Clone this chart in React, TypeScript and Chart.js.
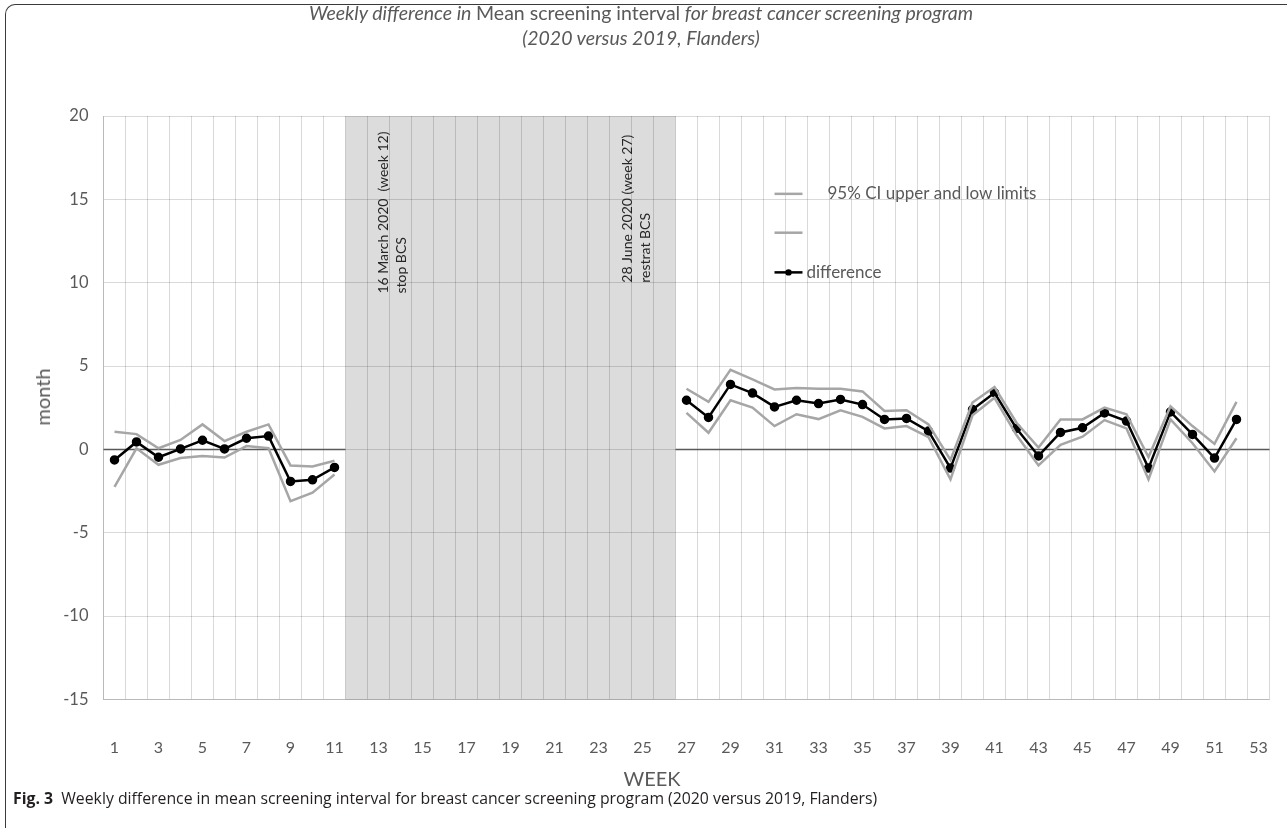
import React, { useEffect, useRef } from "react";
import { Chart, registerables } from "chart.js";

Chart.register(...registerables);

const WEEKS = [
  "1", "2", "3", "4", "5", "6", "7", "8", "9", "10", "11", "12", "13", "14", "15", "16", "17", "18",
  "19", "20", "21", "22", "23", "24", "25", "26", "27", "28", "29", "30", "31", "32", "33", "34", "35",
  "36", "37", "38", "39", "40", "41", "42", "43", "44", "45", "46", "47", "48", "49", "50", "51", "52", "53",
];

const GAP = [null, null, null, null, null, null, null, null, null, null, null, null, null, null, null];

const DIFF_BEFORE = [-0.63, 0.45, -0.47, 0.03, 0.55, 0.03, 0.67, 0.8, -1.92, -1.82, -1.08];
const DIFF_AFTER = [2.95, 1.92, 3.9, 3.38, 2.55, 2.95, 2.75, 3.0, 2.69, 1.8, 1.86, 1.1, -1.12, 2.39, 3.4, 1.26, -0.39, 1.02, 1.3, 2.19, 1.7, -1.12, 2.25, 0.9, -0.52, 1.8];

const UPPER_BEFORE = [1.06, 0.92, 0.07, 0.57, 1.5, 0.5, 1.06, 1.5, -0.96, -1.02, -0.68];
const UPPER_AFTER = [3.64, 2.85, 4.77, 4.2, 3.6, 3.68, 3.64, 3.64, 3.48, 2.31, 2.35, 1.5, -0.63, 2.81, 3.74, 1.6, 0.11, 1.8, 1.8, 2.51, 2.11, -0.46, 2.59, 1.4, 0.33, 2.85];

const LOWER_BEFORE = [-2.25, 0.07, -0.92, -0.52, -0.39, -0.49, 0.2, 0.07, -3.1, -2.6, -1.5];
const LOWER_AFTER = [2.19, 1.0, 2.95, 2.51, 1.4, 2.11, 1.82, 2.35, 1.95, 1.26, 1.4, 0.73, -1.8, 2.05, 3.1, 0.86, -0.96, 0.27, 0.76, 1.76, 1.26, -1.8, 1.8, 0.37, -1.32, 0.67];

const DIFFERENCE = [...DIFF_BEFORE, ...GAP, ...DIFF_AFTER, null];
const UPPER = [...UPPER_BEFORE, ...GAP, ...UPPER_AFTER, null];
const LOWER = [...LOWER_BEFORE, ...GAP, ...LOWER_AFTER, null];

const Y_MIN = -15;
const Y_MAX = 20;
const Y_STEP = 5;

const SHADE_FIRST_WEEK = "12";
const SHADE_LAST_WEEK = "26";

const NOTES = [
  { week: "13", lines: ["16 March 2020  (week 12)", "stop BCS"] },
  { week: "25", lines: ["28 June 2020 (week 27)", "restrat BCS"] },
];

const CI_LABEL = "95% CI upper and low limits";
const DIFF_LABEL = "difference";

const GRAY = "#a6a6a6";
const AXIS_TEXT = "#595959";
const FONT = "Lato, 'Open Sans', sans-serif";

const shadePlugin = {
  id: "shade",
  beforeDraw(chart: any) {
    const { ctx, chartArea, scales } = chart;
    const x = scales.x;
    const i0 = WEEKS.indexOf(SHADE_FIRST_WEEK);
    const i1 = WEEKS.indexOf(SHADE_LAST_WEEK);
    const x0 = x.getPixelForValue(i0 - 0.5);
    const x1 = x.getPixelForValue(i1 + 0.5);
    ctx.save();
    ctx.fillStyle = "#dcdcdc";
    ctx.fillRect(x0, chartArea.top, x1 - x0, chartArea.bottom - chartArea.top);
    ctx.restore();
  },
  beforeDatasetsDraw(chart: any) {
    const { ctx, chartArea, scales } = chart;
    const x = scales.x;
    const y = scales.y;
    const i0 = WEEKS.indexOf(SHADE_FIRST_WEEK);
    const i1 = WEEKS.indexOf(SHADE_LAST_WEEK);
    const x0 = x.getPixelForValue(i0 - 0.5);
    const x1 = x.getPixelForValue(i1 + 0.5);
    const y0 = y.getPixelForValue(0);
    ctx.save();
    ctx.strokeStyle = "#595959";
    ctx.lineWidth = 1.5;
    ctx.beginPath();
    ctx.moveTo(chartArea.left, y0);
    ctx.lineTo(x0, y0);
    ctx.moveTo(x1, y0);
    ctx.lineTo(chartArea.right, y0);
    ctx.stroke();

    // rotated notes in the shaded band
    ctx.fillStyle = "#262626";
    ctx.font = `14px ${FONT}`;
    ctx.textAlign = "left";
    ctx.textBaseline = "middle";
    const bottoms = [9.35, 10.0];
    NOTES.forEach((n, k) => {
      const cx = x.getPixelForValue(WEEKS.indexOf(n.week)) + (k === 0 ? 4.5 : -15.5);
      const by = y.getPixelForValue(bottoms[k]);
      n.lines.forEach((t, j) => {
        ctx.save();
        ctx.translate(cx + j * 18.5, by);
        ctx.rotate(-Math.PI / 2);
        ctx.fillText(t, 0, 0);
        ctx.restore();
      });
    });
    ctx.restore();
  },
  afterDatasetsDraw(chart: any) {
    const { ctx, scales } = chart;
    const x = scales.x;
    const y = scales.y;
    const ds = chart.data.datasets;
    const lx = x.getPixelForValue(WEEKS.indexOf("31"));
    const rows = [15.33, 13.0, 10.62];
    ctx.save();
    ctx.font = `17px ${FONT}`;
    ctx.textBaseline = "middle";
    ctx.textAlign = "left";
    ds.forEach((d: any, k: number) => {
      const ry = y.getPixelForValue(rows[k]);
      ctx.strokeStyle = d.borderColor;
      ctx.lineWidth = d.borderWidth;
      ctx.beginPath();
      ctx.moveTo(lx, ry);
      ctx.lineTo(lx + 28, ry);
      ctx.stroke();
      if (d.pointRadius > 0) {
        ctx.fillStyle = d.pointBackgroundColor;
        ctx.beginPath();
        ctx.arc(lx + 14, ry, 3.2, 0, Math.PI * 2);
        ctx.fill();
      }
      if (d.label) {
        ctx.fillStyle = AXIS_TEXT;
        const tx = d.pointRadius > 0 ? lx + 32 : lx + 53;
        ctx.fillText(d.label, tx, ry);
      }
    });
    ctx.restore();
  },
};

export default function App() {
  const ref = useRef<HTMLCanvasElement | null>(null);

  useEffect(() => {
    if (!ref.current) return;
    const chart = new Chart(ref.current, {
      type: "line",
      data: {
        labels: WEEKS,
        datasets: [
          {
            label: CI_LABEL,
            data: UPPER,
            borderColor: GRAY,
            borderWidth: 2.5,
            pointRadius: 0,
            spanGaps: false,
            tension: 0,
          },
          {
            label: "",
            data: LOWER,
            borderColor: GRAY,
            borderWidth: 2.5,
            pointRadius: 0,
            spanGaps: false,
            tension: 0,
          },
          {
            label: DIFF_LABEL,
            data: DIFFERENCE,
            borderColor: "#000000",
            borderWidth: 2.5,
            pointRadius: 3.5,
            pointBackgroundColor: "#000000",
            pointBorderColor: "#000000",
            spanGaps: false,
            tension: 0,
          },
        ] as any,
      },
      options: {
        animation: false,
        responsive: false,
        events: [],
        layout: { padding: { left: 20, top: 116, right: 17.5, bottom: 68.5 } },
        plugins: {
          legend: { display: false },
          title: { display: false },
          tooltip: { enabled: false },
        },
        scales: {
          x: {
            type: "category",
            offset: true,
            grid: {
              offset: true,
              color: "rgba(0,0,0,0.15)",
              drawTicks: true,
              tickLength: 36,
              tickColor: "rgba(0,0,0,0)",
              lineWidth: 1,
            },
            border: { color: "rgba(0,0,0,0.15)" },
            ticks: {
              autoSkip: false,
              maxRotation: 0,
              minRotation: 0,
              padding: 3,
              color: AXIS_TEXT,
              font: { family: FONT, size: 16 },
              callback: (_v: any, i: number) => (i % 2 === 0 ? WEEKS[i] : ""),
            },
            afterFit: (s: any) => {
              s.height = 60;
            },
          },
          y: {
            min: Y_MIN,
            max: Y_MAX,
            grid: { color: "rgba(0,0,0,0.15)", drawTicks: false },
            border: { color: "rgba(0,0,0,0.15)" },
            ticks: {
              stepSize: Y_STEP,
              padding: 15,
              color: AXIS_TEXT,
              font: { family: FONT, size: 16.5 },
            },
            afterFit: (s: any) => {
              s.width = 83.5;
            },
          },
        },
      },
      plugins: [shadePlugin],
    });
    return () => chart.destroy();
  }, []);

  return (
    <div
      style={{
        position: "fixed",
        left: 0,
        top: 0,
        width: 1287,
        height: 828,
        background: "#ffffff",
        overflow: "hidden",
        fontFamily: FONT,
      }}
    >
      <div
        style={{
          position: "absolute",
          left: 5,
          top: 4,
          width: 1400,
          height: 1000,
          borderLeft: "1.5px solid #3a3a3a",
          borderTop: "1.5px solid #3a3a3a",
          borderTopLeftRadius: 10,
        }}
      />
      <canvas
        ref={ref}
        width={1287}
        height={828}
        style={{ position: "absolute", left: 0, top: 0, width: 1287, height: 828 }}
      />
      <div
        style={{
          position: "absolute",
          left: 0,
          top: 0,
          width: 1282,
          textAlign: "center",
          color: AXIS_TEXT,
          fontSize: 19.5,
          lineHeight: "25px",
          fontStyle: "italic",
        }}
      >
        <div>
          Weekly difference in <span style={{ fontStyle: "normal" }}>Mean screening interval</span> for breast
          cancer screening program
        </div>
        <div>(2020 versus 2019, Flanders)</div>
      </div>
      <div
        style={{
          position: "absolute",
          left: 42,
          top: 397,
          transform: "translate(-50%, -50%) rotate(-90deg)",
          color: AXIS_TEXT,
          fontSize: 20,
          whiteSpace: "nowrap",
        }}
      >
        month
      </div>
      <div
        style={{
          position: "absolute",
          left: 652,
          top: 778,
          transform: "translate(-50%, -50%)",
          color: AXIS_TEXT,
          fontSize: 20,
          whiteSpace: "nowrap",
        }}
      >
        WEEK
      </div>
      <div
        style={{
          position: "absolute",
          left: 13,
          top: 787,
          color: "#231f20",
          fontFamily: "'Open Sans', 'Noto Sans', sans-serif",
          fontSize: 15.8,
          whiteSpace: "nowrap",
        }}
      >
        <b>Fig. 3</b>&nbsp;&nbsp;Weekly difference in mean screening interval for breast cancer screening program
        (2020 versus 2019, Flanders)
      </div>
    </div>
  );
}
